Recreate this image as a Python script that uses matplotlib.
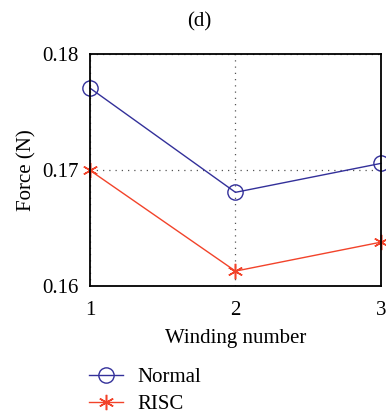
import matplotlib
matplotlib.use("Agg")
import matplotlib.pyplot as plt

# valores (d)
enrolamento = [1, 2, 3]
forca_normal = [0.1771, 0.1681, 0.1706]
forca_risc = [0.1700, 0.1613, 0.1638]
yticks = [0.16, 0.17, 0.18]
ytick_labels = ["0.16", "0.17", "0.18"]

plt.rcParams['font.family'] = ['Liberation Serif', 'DejaVu Serif']
plt.rcParams['font.size'] = 15

fig = plt.figure(figsize=(3.86, 4.19), dpi=100)
ax = fig.add_axes([0.233, 0.317, 0.754, 0.553])

ax.plot(enrolamento, forca_normal, color='#33309a', lw=1, marker='o', ms=11,
        mfc='none', mec='#33309a', mew=1, label='Normal', clip_on=False)
ax.plot(enrolamento, forca_risc, color='#f2432a', lw=1, marker=(6, 2, 0), ms=11,
        mfc='none', mec='#f2432a', mew=1.1, label='RISC', clip_on=False)

ax.set_xlim(1, 3)
ax.set_ylim(0.16, 0.18)
ax.set_xticks(enrolamento)
ax.set_yticks(yticks)
ax.set_yticklabels(ytick_labels)
ax.grid(True, linestyle=(0, (1, 4)), color='#555555', lw=0.9)
ax.tick_params(axis='y', length=0, pad=8)
ax.tick_params(axis='x', length=0, pad=11)
for s in ax.spines.values():
    s.set_linewidth(1.3)

ax.set_xlabel("Winding number", labelpad=6)
ax.set_ylabel("Force (N)", labelpad=4)
fig.text(0.515, 0.948, "(d)", ha='center', va='center', fontsize=15)

fig.legend(loc='upper left', bbox_to_anchor=(0.21, 0.142), frameon=False,
           handlelength=1.6, handletextpad=0.7, labelspacing=0.35, borderaxespad=0)

fig.savefig("out.png", dpi=100)
